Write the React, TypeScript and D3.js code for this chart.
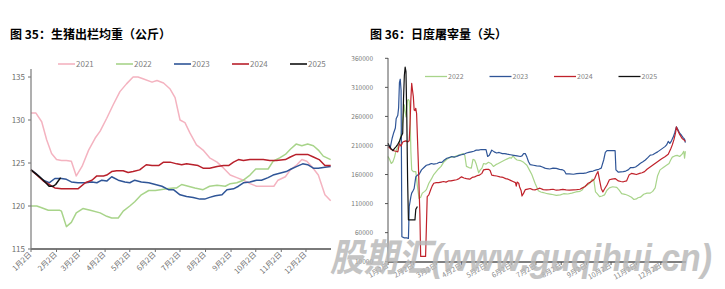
import React from "react";
import * as d3 from "d3";

// ---------- shared ----------
const monthTickDays = [0, 31, 59, 90, 120, 151, 181, 212, 243, 273, 304, 334];
const monthTickLabels = ["1月2日", "2月2日", "3月2日", "4月2日", "5月2日", "6月2日", "7月2日", "8月2日", "9月2日", "10月2日", "11月2日", "12月2日"];

// ---------- chart 35: weight (kg), [day from Jan 2, value] ----------
const leftTitle = "图 35：生猪出栏均重（公斤）";
const leftYTicks = [115, 120, 125, 130, 135];
const leftSeriesNames = ["2021", "2022", "2023", "2024", "2025"];
const w2021: [number, number][] = [[0,130.8],[6,130.8],[13,129.8],[19,127.7],[25,126.1],[31,125.4],[37,125.3],[43,125.3],[49,125.2],[55,123.5],[62,124.6],[70,126.5],[78,127.9],[84,128.7],[92,130.2],[100,131.8],[108,133.3],[116,134.2],[124,135.0],[130,135.0],[136,134.8],[147,134.4],[153,134.6],[161,134.3],[169,133.6],[175,132.6],[181,130.0],[187,129.7],[193,128.5],[201,127.1],[209,126.5],[217,125.6],[226,125.1],[234,124.4],[242,123.6],[250,123.3],[258,123.0],[266,122.6],[274,122.3],[290,122.3],[295,122.3],[300,123.0],[309,123.4],[315,124.2],[323,124.8],[329,125.4],[335,125.2],[341,124.6],[349,123.6],[357,121.3],[364,120.6]];
const w2022: [number, number][] = [[0,120.0],[7,120.0],[13,119.8],[21,119.5],[29,119.5],[35,119.5],[37,119.4],[43,117.6],[49,118.1],[55,119.2],[63,119.7],[72,119.5],[84,119.2],[92,118.8],[98,118.6],[106,118.6],[112,119.4],[120,120.0],[126,120.5],[134,121.3],[143,121.8],[151,121.8],[157,121.9],[165,122.0],[173,122.1],[177,122.1],[183,122.5],[191,122.3],[199,122.1],[209,121.9],[217,122.3],[226,122.4],[236,122.3],[242,122.6],[250,122.7],[258,123.0],[266,123.6],[273,124.3],[281,124.3],[288,124.3],[294,125.2],[302,125.6],[309,126.0],[315,126.6],[322,127.2],[329,127.0],[336,127.2],[343,127.0],[349,126.5],[355,125.8],[364,125.4]];
const w2023: [number, number][] = [[0,124.2],[7,123.7],[15,123.0],[22,122.7],[29,123.2],[37,123.2],[43,123.1],[49,122.8],[57,122.7],[66,122.7],[74,122.8],[80,122.7],[86,123.0],[92,122.9],[98,123.4],[106,123.0],[114,122.8],[120,122.7],[126,123.0],[134,122.8],[143,122.7],[151,122.5],[159,122.3],[167,121.9],[173,121.9],[181,121.3],[189,121.1],[197,121.0],[205,120.8],[211,120.8],[217,121.0],[224,121.2],[232,121.3],[238,121.9],[246,122.0],[252,122.3],[258,122.7],[266,122.8],[274,123.0],[280,123.0],[288,123.3],[294,123.6],[302,123.8],[310,124.0],[316,124.3],[323,124.6],[330,124.9],[336,124.8],[343,124.4],[349,124.4],[357,124.5],[364,124.6]];
const w2024: [number, number][] = [[0,124.2],[7,123.6],[15,122.9],[22,122.5],[29,122.1],[37,122.0],[43,122.0],[49,122.0],[57,122.0],[66,122.7],[74,123.0],[80,123.5],[88,123.5],[92,123.6],[98,124.0],[104,124.1],[112,124.1],[118,123.9],[124,124.0],[132,124.2],[140,124.8],[147,124.7],[155,124.7],[161,125.1],[169,125.1],[177,124.9],[183,124.8],[189,124.9],[197,124.8],[203,124.7],[209,124.4],[217,124.4],[226,124.6],[234,124.7],[240,124.7],[246,125.1],[252,125.4],[258,125.3],[266,125.4],[274,125.4],[282,125.4],[290,125.3],[298,125.3],[309,125.4],[315,125.7],[322,126.0],[329,126.0],[336,126.0],[343,125.7],[350,125.4],[357,124.7],[364,124.7]];
const w2025: [number, number][] = [[0,124.2],[9,123.5],[15,123.0],[22,122.3],[27,122.3],[30,122.5],[36,123.3]];

// ---------- chart 36: daily slaughter (head), [day from Jan 2, value] ----------
const rightTitle = "图 36：日度屠宰量（头）";
const rightYTicks = [10000, 60000, 110000, 160000, 210000, 260000, 310000, 360000];
const rightSeriesNames = ["2022", "2023", "2024", "2025"];
const s2022: [number, number][] = [[0,191000],[2,186000],[4,179000],[6,182000],[8,190000],[10,202000],[12,207000],[14,214000],[16,230000],[18,251000],[20,280000],[21,268000],[22,259000],[23,275000],[24,288000],[25,289000],[26,287000],[27,262000],[28,200000],[29,168000],[31,165000],[34,165000],[36,140000],[38,119000],[40,121000],[42,128000],[45,131000],[47,134000],[50,145000],[53,152000],[56,160000],[59,165000],[62,170000],[65,174000],[68,181000],[71,185000],[73,187000],[76,190000],[80,190000],[84,192000],[88,194000],[92,196000],[94,193000],[96,174000],[99,172000],[102,171000],[104,186000],[106,185000],[108,178000],[111,163000],[113,168000],[115,171000],[117,179000],[120,178000],[123,181000],[126,179000],[129,174000],[132,177000],[135,179000],[139,182000],[143,185000],[146,187000],[149,189000],[151,188000],[153,192000],[156,187000],[158,185000],[162,184000],[166,181000],[170,176000],[173,168000],[176,160000],[180,145000],[184,132000],[187,130000],[190,129000],[195,127000],[200,126000],[206,124000],[211,125000],[215,127000],[220,126500],[225,128000],[230,130000],[235,131000],[238,134000],[240,139000],[244,142000],[247,145000],[250,152000],[252,150000],[254,130000],[256,127000],[259,122000],[262,123000],[265,125000],[268,133000],[271,137000],[275,139000],[280,138000],[283,133000],[286,127000],[290,126000],[294,124000],[298,121000],[301,117000],[304,118000],[306,120000],[309,121000],[313,126000],[317,128000],[321,128000],[324,131000],[327,137000],[330,158000],[333,168000],[337,172000],[340,175000],[344,179000],[346,185000],[348,190000],[351,192000],[354,193000],[357,191000],[360,195000],[362,200000],[363,188000],[364,200000]];
const s2023: [number, number][] = [[0,211000],[2,208000],[3,208000],[5,222000],[7,232000],[9,240000],[10,256000],[12,262000],[13,275000],[14,318000],[15,324000],[16,305000],[17,53000],[20,51000],[23,51000],[25,50000],[26,105000],[28,122000],[29,128000],[31,133000],[32,136000],[34,156000],[36,159000],[38,160000],[41,168000],[44,172000],[47,176000],[50,177000],[53,179000],[56,178000],[60,179000],[63,181000],[66,181000],[69,185000],[72,188000],[75,189000],[78,191000],[81,190000],[84,191000],[87,193000],[90,194000],[93,195000],[96,197000],[99,198000],[102,199000],[105,200000],[108,202000],[111,202000],[114,203000],[117,203000],[120,203000],[122,191000],[124,193000],[127,202000],[130,199000],[133,197000],[136,198000],[140,196000],[143,196000],[146,195000],[150,194000],[154,193000],[158,192000],[162,191000],[164,192000],[166,196000],[168,196000],[170,190000],[172,182000],[174,177000],[178,176000],[182,175000],[186,174500],[189,173000],[192,171000],[195,170000],[198,169500],[202,171000],[206,170500],[210,169000],[214,168000],[216,166000],[218,161000],[222,161000],[227,160500],[231,161500],[235,162000],[239,162000],[243,163000],[247,165000],[251,166000],[255,168000],[258,169000],[261,171000],[264,185000],[266,198000],[268,201000],[272,201000],[275,201000],[278,201000],[279,168000],[282,164000],[285,164500],[288,165000],[291,166000],[294,168000],[297,172000],[300,172000],[303,173000],[306,176000],[309,179500],[312,182000],[315,185000],[318,189000],[321,193500],[324,194000],[327,196500],[330,199000],[333,202000],[336,205000],[339,208000],[341,211000],[343,217000],[345,213500],[347,218000],[349,224000],[351,232000],[353,242000],[355,237000],[357,231000],[359,228000],[361,224000],[363,221000],[364,215000]];
const s2024: [number, number][] = [[0,208000],[2,206000],[4,203000],[6,202000],[8,200500],[10,200000],[12,199000],[14,213000],[16,209000],[18,216000],[20,217000],[22,218000],[24,216000],[26,218000],[27,248000],[28,290000],[29,317000],[30,305000],[31,294000],[32,271000],[33,270000],[34,274000],[35,265000],[37,185000],[39,93000],[40,19000],[43,19000],[46,19000],[47,70000],[48,122000],[50,125000],[52,133000],[54,140000],[56,145000],[59,146000],[62,146000],[65,147000],[68,148000],[71,147000],[74,149000],[77,149000],[80,150000],[84,151000],[87,153000],[90,156000],[93,154000],[96,153000],[100,152000],[103,155000],[106,156000],[109,158000],[112,159000],[115,162000],[117,168000],[120,169000],[123,169000],[125,167000],[127,159000],[130,158000],[133,157500],[137,156000],[141,155000],[144,153000],[147,152000],[150,150000],[153,148000],[156,146000],[157,140000],[158,147000],[160,145000],[161,139000],[163,132000],[164,123000],[166,128000],[168,134000],[171,135000],[174,136000],[177,134000],[180,133500],[183,135000],[186,136500],[190,134000],[194,133500],[198,134000],[202,134700],[206,133000],[210,133600],[214,134500],[218,133600],[222,133000],[227,133600],[231,134000],[235,134700],[238,137000],[241,139000],[243,142000],[245,145000],[248,147000],[251,150000],[253,153000],[255,160000],[257,165000],[259,150000],[261,136000],[263,130000],[265,135000],[268,142000],[271,151000],[274,152000],[278,153000],[282,149000],[285,148000],[288,147500],[292,149000],[295,159000],[298,162000],[301,161000],[304,160000],[308,162000],[311,163000],[314,165000],[317,169000],[320,172000],[323,175000],[326,178000],[329,181000],[332,184000],[335,187000],[339,190500],[343,195000],[346,204000],[348,211000],[350,220000],[352,232000],[353,242000],[355,235000],[357,229000],[360,222000],[362,220000],[364,217000]];
const s2025: [number, number][] = [[0,214000],[2,208000],[4,204000],[6,201000],[8,205000],[10,208000],[12,212000],[14,217000],[16,225000],[18,231000],[19,290000],[20,330000],[21,345000],[22,337000],[23,260000],[24,150000],[25,82000],[28,82000],[31,82000],[33,82000],[34,100000],[36,105000]];

const leftColors = ["#F4B3C0", "#A8D48A", "#2F5597", "#B8202B", "#111111"];
const rightColors = ["#A8D48A", "#2F5597", "#C0222B", "#111111"];

const FONT = "'Noto Sans CJK SC', 'Noto Sans', sans-serif";

export default function App() {
  const xL = d3.scaleLinear().domain([0, 365]).range([31, 331.5]);
  const yL = d3.scaleLinear().domain([115, 135]).range([249, 77]);
  const xR = d3.scaleLinear().domain([0, 365]).range([388, 686.2]);
  const yR = d3.scaleLinear().domain([10000, 360000]).range([261.7, 58.3]);

  const lineL = d3.line<[number, number]>().x((d) => xL(d[0])).y((d) => yL(d[1]));
  const lineR = d3.line<[number, number]>().x((d) => xR(d[0])).y((d) => yR(d[1]));

  const leftData = [w2021, w2022, w2023, w2024, w2025];
  const rightData = [s2022, s2023, s2024, s2025];

  return (
    <svg width={725} height={289} style={{ position: "absolute", left: 0, top: 0, background: "#fff" }} fontFamily={FONT}>
      {/* titles */}
      <text x={10} y={39} fontSize={12} fontWeight={700} fill="#000">{leftTitle}</text>
      <text x={370} y={39} fontSize={12} fontWeight={700} fill="#000">{rightTitle}</text>

      {/* ---------- left chart ---------- */}
      {leftSeriesNames.map((n, i) => {
        const lx = 58 + i * 58;
        return (
          <g key={n}>
            <line x1={lx} x2={lx + 17} y1={64} y2={64} stroke={leftColors[i]} strokeWidth={1.6} />
            <text x={lx + 18} y={67} fontSize={8} fill="#7f7f7f">{n}</text>
          </g>
        );
      })}
      {leftYTicks.map((t) => (
        <g key={t}>
          <line x1={28} x2={31} y1={yL(t)} y2={yL(t)} stroke="#6e6e6e" strokeWidth={1} />
          <text x={25} y={yL(t) + 3} fontSize={8} fill="#6e6e6e" textAnchor="end">{t}</text>
        </g>
      ))}
      {leftData.map((d, i) => (
        <path key={i} d={lineL(d) || ""} fill="none" stroke={leftColors[i]} strokeWidth={1.5} strokeLinejoin="round" />
      ))}
      <line x1={31} x2={31} y1={69} y2={249} stroke="#7a7a7a" strokeWidth={1.2} />
      <line x1={31} x2={331} y1={249} y2={249} stroke="#7a7a7a" strokeWidth={1.8} />
      {monthTickDays.map((d, i) => (
        <g key={d}>
          <line x1={xL(d)} x2={xL(d)} y1={249} y2={252} stroke="#6e6e6e" strokeWidth={1} />
          <text
            transform={`translate(${xL(d) + 1},${255}) rotate(-45)`}
            fontSize={7.5}
            fill="#6e6e6e"
            textAnchor="end"
          >
            {monthTickLabels[i]}
          </text>
        </g>
      ))}

      {/* ---------- right chart ---------- */}
      {rightSeriesNames.map((n, i) => {
        const lx = 425 + i * 64.5;
        return (
          <g key={n}>
            <line x1={lx} x2={lx + 22} y1={76.5} y2={76.5} stroke={rightColors[i]} strokeWidth={1.3} />
            <text x={lx + 23} y={79.2} fontSize={7} fill="#7f7f7f">{n}</text>
          </g>
        );
      })}
      {rightYTicks.map((t) => (
        <g key={t}>
          <line x1={385} x2={388} y1={yR(t)} y2={yR(t)} stroke="#555" strokeWidth={1} />
          <text x={373} y={yR(t) + 2.3} fontSize={6.5} fill="#7a7a7a" textAnchor="end">{t}</text>
        </g>
      ))}
      {rightData.map((d, i) => (
        <path key={i} d={lineR(d) || ""} fill="none" stroke={rightColors[i]} strokeWidth={1.2} strokeLinejoin="round" />
      ))}
      <line x1={388} x2={388} y1={58} y2={262} stroke="#555" strokeWidth={1} />
      <line x1={388} x2={686} y1={262} y2={262} stroke="#555" strokeWidth={1.5} />
      {monthTickDays.map((d, i) => (
        <g key={d}>
          <line x1={xR(d)} x2={xR(d)} y1={262} y2={265} stroke="#555" strokeWidth={1} />
          <text
            transform={`translate(${xR(d) + 1},${267}) rotate(-30)`}
            fontSize={7}
            fill="#8a8a8a"
            textAnchor="end"
          >
            {monthTickLabels[i]}
          </text>
        </g>
      ))}

      {/* watermark */}
      <text
        x={330}
        y={271}
        fontSize={38}
        fontWeight={700}
        fontStyle="italic"
        fill="#b8b8b8"
        opacity={0.82}
        textLength={382}
        lengthAdjust="spacingAndGlyphs"
        fontFamily="'Liberation Sans', 'Noto Sans CJK SC', sans-serif"
      >
        股期汇(www.guqihui.cn)
      </text>
    </svg>
  );
}
